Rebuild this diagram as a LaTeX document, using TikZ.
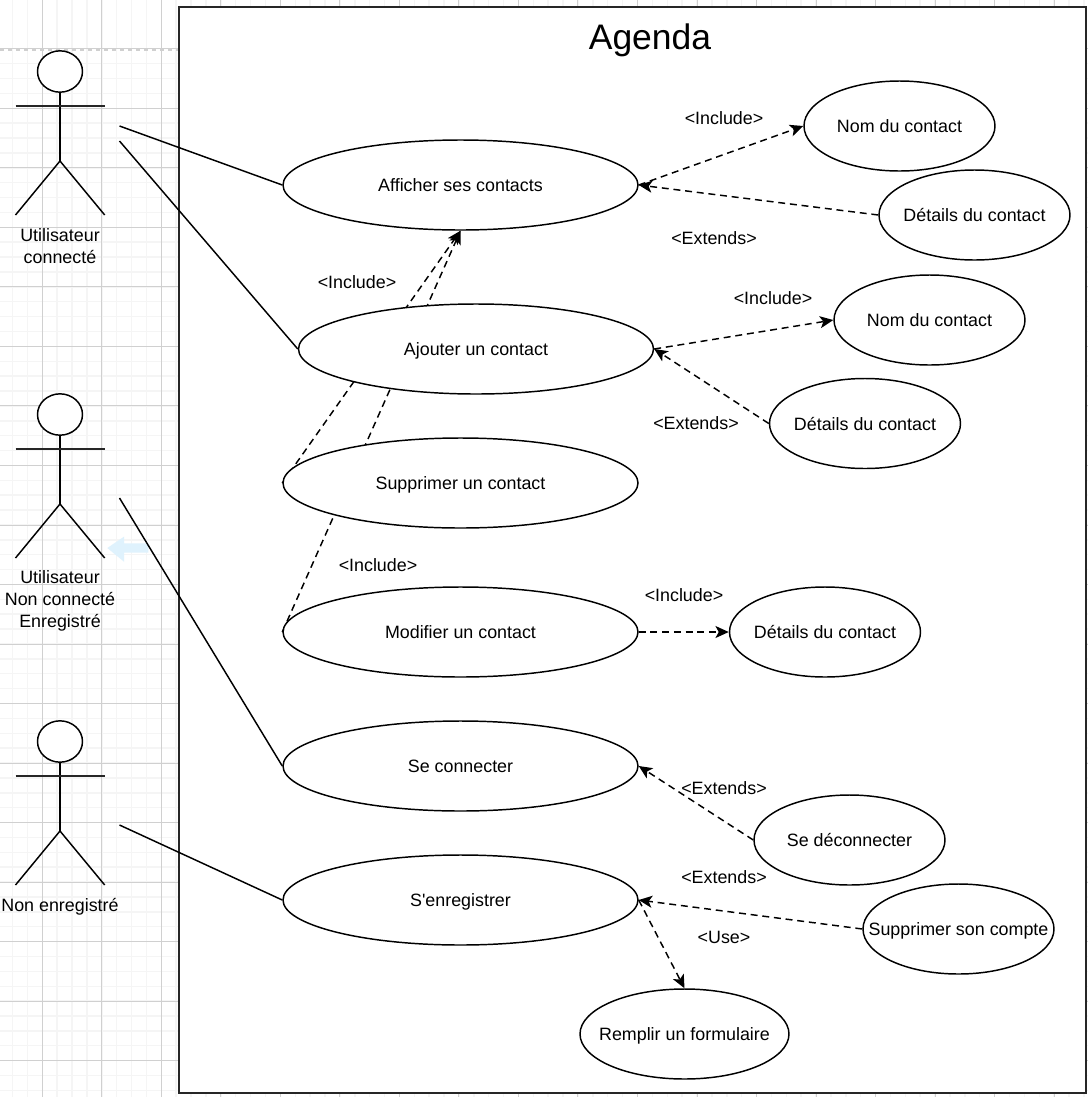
\documentclass[tikz,border=0pt]{standalone}
\usepackage{fontspec}
\setmainfont{Liberation Sans}
\font\straightq="Liberation Sans" at 13.4pt
\usetikzlibrary{arrows.meta,shapes.geometric,backgrounds}
\definecolor{gridminor}{HTML}{F5F5F5}
\definecolor{gridmajor}{HTML}{D0D0D0}
\definecolor{hintblue}{HTML}{DFF2FD}
\begin{document}
\begin{tikzpicture}[
        x=0.75pt,
        y=-0.75pt,
        >={Stealth[length=10pt,width=9pt,inset=2.5pt]},
        usecase/.style={
            ellipse,
            draw=black,
            fill=white,
            line width=1.1pt,
            inner xsep=-2cm,
            inner ysep=0pt,
            minimum height=67.5pt,
            text height=11.5pt,
            text depth=1.65pt,
            font=\fontsize{13.4}{16}\selectfont
        },
        big/.style={usecase, minimum width=266.25pt},
        small/.style={usecase, minimum width=143.25pt},
        head/.style={
            ellipse,
            draw=black,
            fill=white,
            line width=1.1pt,
            inner sep=0pt,
            minimum width=33.75pt,
            minimum height=31pt
        },
        acteur/.style={
            inner sep=0pt,
            font=\fontsize{13.4}{16.5}\selectfont,
            align=center
        },
        label/.style={
            inner sep=0pt,
            text height=11.5pt,
            text depth=1.65pt,
            font=\fontsize{13.4}{16.5}\selectfont
        },
        assoc/.style={
            line width=1.1pt,
            draw=black
        },
        arm/.style={
            line width=1.5pt,
            draw=black!85
        },
        dep/.style={
            ->,
            dash pattern=on 5.2pt off 3.6pt,
            line width=1.1pt,
            draw=black
        }
    ]

    \useasboundingbox (0,0) rectangle (1088,1097);

    \node[big] (afficher) at (460.5,185) {Afficher ses contacts};
    \node[big] (ajouter) at (476,349) {Ajouter un contact};
    \node[big] (supprimer) at (460.5,483) {Supprimer un contact};
    \node[big] (modifier) at (460.5,632) {Modifier un contact};
    \node[big] (connecter) at (460.5,766) {Se connecter};
    \node[big] (enregistrer) at (460.5,900) {S{\straightq '}enregistrer};

    \node[small] (nom1) at (899.5,126) {Nom du contact};
    \node[small] (details1) at (974.5,215) {Détails du contact};
    \node[small] (nom2) at (929.5,320) {Nom du contact};
    \node[small] (details2) at (865,423.5) {Détails du contact};
    \node[small] (details3) at (825,632) {Détails du contact};
    \node[small] (deconnecter) at (849.5,840) {Se déconnecter};
    \node[small] (compte) at (958.5,929) {Supprimer son compte};
    \node[usecase, minimum width=156.75pt] (remplir) at (684.5,1034) {Remplir un formulaire};

    \node[acteur, font=\fontsize{26.6}{30}\selectfont] (titre) at (650,40) {Agenda};

    \foreach \n/\y in {a/0,b/343,c/670} {
        \node[head] (head\n) at (60,71.5+\y) {};
        \draw[assoc] (head\n.south) -- (60,161+\y);
        \draw[arm] (15.5,105.7+\y) -- (104.7,105.7+\y);
        \draw[assoc] (15.5,215+\y) -- (60,161+\y) -- (104.7,215+\y);
    }

    \node[acteur] (acteura) at (60,246) {Utilisateur\\connecté};
    \node[acteur] (acteurb) at (60,601) {Utilisateur\\Non connecté\\Enregistré};
    \node[label] (acteurc) at (60,905) {Non enregistré};

    \node[label] (l1) at (724,118) {<Include>};
    \node[label] (l2) at (714,238) {<Extends>};
    \node[label] (l3) at (773,298) {<Include>};
    \node[label] (l4) at (696,423) {<Extends>};
    \node[label] (l5) at (357,282) {<Include>};
    \node[label] (l6) at (378,565) {<Include>};
    \node[label] (l7) at (684,595) {<Include>};
    \node[label] (l8) at (724,788) {<Extends>};
    \node[label] (l9) at (724,877) {<Extends>};
    \node[label] (l10) at (724,937) {<Use>};

    \coordinate (fromaa) at (119.5,126);
    \coordinate (fromab) at (119.5,141);
    \coordinate (fromb) at (119.5,498);
    \coordinate (fromc) at (119.5,825);

    \begin{pgfonlayer}{background}
        \fill[white] (0,0) rectangle (1088,1097);
        \foreach \k in {-3,...,73} {
            \draw[gridminor, line width=1.1pt] (42.3+14.88*\k,0) -- (42.3+14.88*\k,1097);
            \draw[gridminor, line width=1.1pt] (0,108.3+14.88*\k) -- (1088,108.3+14.88*\k);
        }
        \foreach \k in {0,...,17} {
            \draw[gridmajor, line width=0.75pt] (42.3+59.52*\k,0) -- (42.3+59.52*\k,1097);
        }
        \foreach \k in {-1,...,16} {
            \draw[gridmajor, line width=0.75pt] (0,108.3+59.53*\k) -- (1088,108.3+59.53*\k);
        }
        \draw[gridmajor, dashed, line width=1.1pt] (0,50) -- (1088,50);
        \fill[hintblue] (107.3,548) -- (124,536.7) -- (124,543.3) -- (148.3,543.3)
            -- (148.3,552.7) -- (124,552.7) -- (124,561.7) -- cycle;

        \draw[draw=black!85, fill=white, line width=1.5pt] (179,7) rectangle (1085.5,1092.5);

        \draw[assoc] (fromaa) -- (afficher.west);
        \draw[assoc] (fromab) -- (ajouter.west);
        \draw[assoc] (fromb) -- (connecter.west);
        \draw[assoc] (fromc) -- (enregistrer.west);

        \draw[dep] (supprimer.west) -- (afficher.south);
        \draw[dep] (modifier.west) -- (afficher.south);
    \end{pgfonlayer}

    \draw[dep] (afficher.east) -- (nom1.west);
    \draw[dep] (details1.west) -- (afficher.east);
    \draw[dep] (ajouter.east) -- (nom2.west);
    \draw[dep] (details2.west) -- (ajouter.east);
    \draw[dep] (modifier.east) -- (details3.west);
    \draw[dep] (deconnecter.west) -- (connecter.east);
    \draw[dep] (compte.west) -- (enregistrer.east);
    \draw[dep] (enregistrer.east) -- (remplir.north);

    \end{tikzpicture}
\end{document}
